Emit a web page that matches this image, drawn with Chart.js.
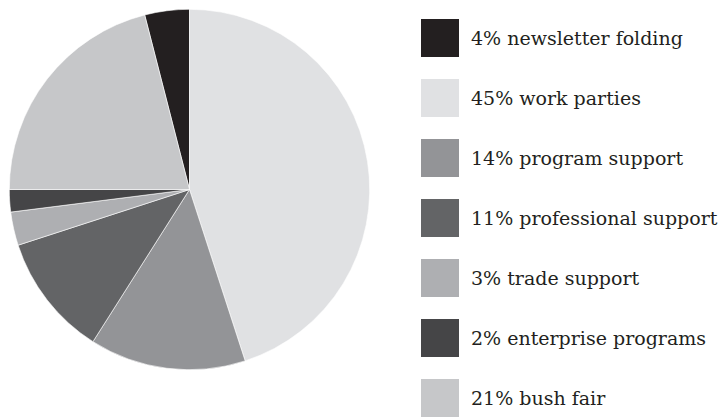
<!DOCTYPE html>
<html>
<head>
<meta charset="utf-8">
<script src="https://cdn.jsdelivr.net/npm/chart.js@4"></script>
<style>
  html, body { margin: 0; padding: 0; background: #ffffff; }
  body { width: 720px; height: 419px; position: relative; overflow: hidden; }
  #pieBox { position: absolute; left: 9px; top: 9px; width: 361px; height: 361px; }
  #legend { position: absolute; left: 421px; top: 19px; }
  .item { position: absolute; left: 0; height: 38px; white-space: nowrap; }
  .sw { position: absolute; left: 0; top: 0; width: 38px; height: 38px; }
  .lbl { position: absolute; left: 50px; top: 0; line-height: 38px; font-family: "DejaVu Serif", "Liberation Serif", serif; font-size: 19px; color: #231f20; }
</style>
</head>
<body>
<div id="pieBox"><canvas id="c"></canvas></div>
<div id="legend"></div>
<script>
const categories = ["newsletter folding", "work parties", "program support", "professional support", "trade support", "enterprise programs", "bush fair"];
const percentages = [4, 45, 14, 11, 3, 2, 21];
const colors = ["#231f20", "#e0e1e3", "#939497", "#636466", "#aeafb2", "#454547", "#c6c7c9"];

const legend = document.getElementById('legend');
categories.forEach((c, i) => {
  const item = document.createElement('div');
  item.className = 'item';
  item.style.top = (i * 60) + 'px';
  const sw = document.createElement('div');
  sw.className = 'sw';
  sw.style.background = colors[i];
  const lbl = document.createElement('div');
  lbl.className = 'lbl';
  lbl.textContent = percentages[i] + '% ' + c;
  item.appendChild(sw);
  item.appendChild(lbl);
  legend.appendChild(item);
});

new Chart(document.getElementById('c'), {
  type: 'pie',
  data: {
    labels: categories,
    datasets: [{
      data: percentages,
      backgroundColor: colors,
      borderColor: '#ffffff',
      borderWidth: 0.6
    }]
  },
  options: {
    responsive: true,
    maintainAspectRatio: false,
    animation: false,
    rotation: -percentages[0] / 100 * 360,
    layout: { padding: 0 },
    plugins: { legend: { display: false }, tooltip: { enabled: false } }
  }
});
</script>
</body>
</html>
